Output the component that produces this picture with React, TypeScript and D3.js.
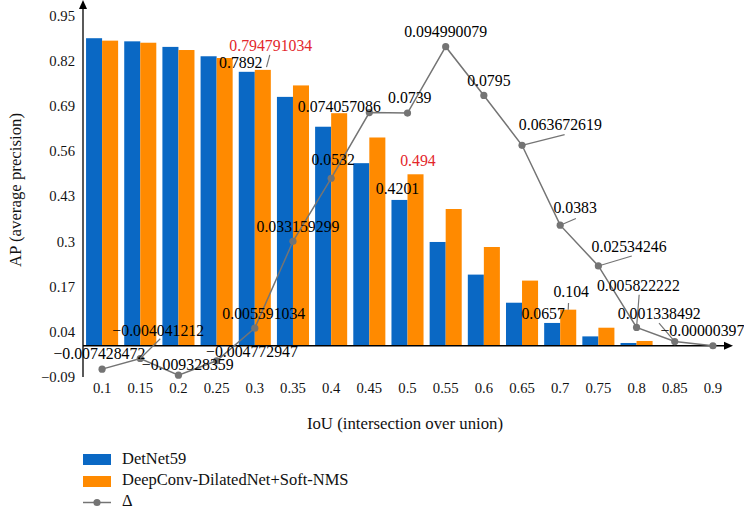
import React from 'react';
import * as d3 from 'd3';

const categories = ['0.1', '0.15', '0.2', '0.25', '0.3', '0.35', '0.4', '0.45', '0.5', '0.55', '0.6', '0.65', '0.7', '0.75', '0.8', '0.85', '0.9'];
const detnet59 = [0.886, 0.877, 0.861, 0.834, 0.7892, 0.717, 0.631, 0.526, 0.4201, 0.299, 0.205, 0.124, 0.0657, 0.027, 0.008, 0.0007, 0];
const deepConv = [0.879, 0.873, 0.852, 0.829, 0.794791034, 0.75, 0.67, 0.6, 0.494, 0.394, 0.2845, 0.1877, 0.104, 0.052, 0.0138, 0.002, 0];
const delta = [-0.007428472, -0.004041212, -0.009328359, -0.004772947, 0.005591034, 0.033159299, 0.0532, 0.074057086, 0.0739, 0.094990079, 0.0795, 0.063672619, 0.0383, 0.02534246, 0.005822222, 0.001338492, 0.00000397];
const deltaLabels = ['−0.007428472', '−0.004041212', '−0.009328359', '−0.004772947', '0.005591034', '0.033159299', '0.0532', '0.074057086', '0.0739', '0.094990079', '0.0795', '0.063672619', '0.0383', '0.02534246', '0.005822222', '0.001338492', '−0.00000397'];
const yTicks = [-0.09, 0.04, 0.17, 0.3, 0.43, 0.56, 0.69, 0.82, 0.95];
const yTickLabels = ['−0.09', '0.04', '0.17', '0.3', '0.43', '0.56', '0.69', '0.82', '0.95'];
const seriesNames = ['DetNet59', 'DeepConv-DilatedNet+Soft-NMS', 'Δ'];

// layout offsets for delta labels: [dx, dy, leaderDx, leaderDy or null]
const deltaLabelOffsets: [number, number, number | null, number | null][] = [
  [-2.7, -10, null, null],
  [18, -22.3, 20, -19.7],
  [9.3, -5, null, null],
  [35.3, -3.3, null, null],
  [9, -9, null, null],
  [5, -9.4, null, null],
  [2, -13.3, null, null],
  [-30, -0.3, null, null],
  [2.3, -10.3, null, null],
  [0, -9.7, null, null],
  [5, -9.7, null, null],
  [38.3, -15.3, 42.6, -10.6],
  [15, -11.7, 15.7, -6.7],
  [30.7, -14.3, 33.4, -10],
  [1.8, -36.7, 2.6, -32.7],
  [-15.5, -22.4, -15.7, -18.4],
  [-10.5, -9.3, null, null],
];

const BLUE = '#0a68c4';
const ORANGE = '#ff8a00';
const GRAY = '#747474';
const RED = '#e3262b';
const FONT = '"Liberation Serif", "Times New Roman", serif';
const LABEL_SIZE = 15.8;

export default function App() {
  const W = 744, H = 508;
  const x0 = 83, x1 = 732;
  const yTop = 16, yBot = 377;

  const x = d3.scaleBand<string>().domain(categories).range([x0, x1]).paddingInner(0.16).paddingOuter(0.08);
  const xs = d3.scaleBand<string>().domain(['a', 'b']).range([0, x.bandwidth()]);
  const y = d3.scaleLinear().domain([-0.09, 0.95]).range([yBot, yTop]);
  const y0 = y(0);
  // secondary scale for Δ (shares the zero line)
  const yd = d3.scaleLinear().domain([0, 0.094990079]).range([y0, 46.7]);

  const cx = (c: string) => (x(c) as number) + x.bandwidth() / 2;
  const line = d3.line<number>().x((_, i) => cx(categories[i])).y((d) => yd(d));

  const barLabel = (i: number, series: 'a' | 'b', text: string, dx: number, dy: number, color: string, leader?: [number, number, number, number]) => {
    const c = categories[i];
    const v = series === 'a' ? detnet59[i] : deepConv[i];
    const bx = (x(c) as number) + (xs(series) as number) + xs.bandwidth() / 2;
    const by = y(v);
    return (
      <g key={`bl-${i}-${series}`}>
        {leader && <line x1={bx + leader[0]} y1={by + leader[1]} x2={bx + leader[2]} y2={by + leader[3]} stroke={GRAY} strokeWidth={1.2} />}
        <text x={bx + dx} y={by + dy} textAnchor="middle" fill={color} fontSize={LABEL_SIZE}>{text}</text>
      </g>
    );
  };

  return (
    <svg width={W} height={H} style={{ position: 'absolute', left: 0, top: 0, fontFamily: FONT }}>
      <rect width={W} height={H} fill="#fff" />
      {/* bars */}
      {categories.map((c, i) => (
        <g key={c}>
          <rect x={(x(c) as number) + (xs('a') as number)} width={xs.bandwidth()} y={y(Math.max(0, detnet59[i]))} height={Math.abs(y(detnet59[i]) - y0)} fill={BLUE} />
          <rect x={(x(c) as number) + (xs('b') as number)} width={xs.bandwidth()} y={y(Math.max(0, deepConv[i]))} height={Math.abs(y(deepConv[i]) - y0)} fill={ORANGE} />
        </g>
      ))}
      {/* axes */}
      <line x1={x0} x2={x0} y1={yBot} y2={6} stroke="#000" strokeWidth={1.3} />
      <path d={`M${x0},0 L${x0 - 4},9 L${x0 + 4},9 Z`} fill="#000" />
      <line x1={x0} x2={x1 - 6} y1={y0} y2={y0} stroke="#000" strokeWidth={1.3} />
      <path d={`M${x1 + 1},${y0} L${x1 - 8},${y0 - 4} L${x1 - 8},${y0 + 4} Z`} fill="#000" />
      {yTicks.map((t, i) => (
        <text key={t} x={75} y={y(t)} dy="0.34em" textAnchor="end" fontSize={14.7} fill="#111">{yTickLabels[i]}</text>
      ))}
      {categories.map((c) => (
        <text key={c} x={cx(c)} y={393} textAnchor="middle" fontSize={14.7} fill="#111">{c}</text>
      ))}
      <text transform={`translate(21,190) rotate(-90)`} textAnchor="middle" fontSize={16.8} fill="#111">AP (average precision)</text>
      <text x={405} y={429} textAnchor="middle" fontSize={16.8} fill="#111">IoU (intersection over union)</text>
      {/* delta line */}
      <path d={line(delta) || ''} fill="none" stroke={GRAY} strokeWidth={1.5} />
      {delta.map((d, i) => (
        <circle key={i} cx={cx(categories[i])} cy={yd(d)} r={3.6} fill={GRAY} />
      ))}
      {/* delta labels */}
      {delta.map((d, i) => {
        const px = cx(categories[i]);
        const py = yd(d);
        const [dx, dy, lx, ly] = deltaLabelOffsets[i];
        return (
          <g key={`dl-${i}`}>
            {lx !== null && ly !== null && <line x1={px} y1={py} x2={px + lx} y2={py + ly} stroke={GRAY} strokeWidth={1.2} />}
            <text x={px + dx} y={py + dy} textAnchor="middle" fontSize={LABEL_SIZE} fill="#000">{deltaLabels[i]}</text>
          </g>
        );
      })}
      {/* bar labels */}
      {barLabel(4, 'a', '0.7892', -6, -4, '#000')}
      {barLabel(4, 'b', '0.794791034', 8, -19, RED, [7, -15, 3.7, -2.7])}
      {barLabel(8, 'a', '0.4201', -2, -5.7, '#000')}
      {barLabel(8, 'b', '0.494', 2.4, -8, RED)}
      {barLabel(12, 'a', '0.0657', -9, -3.7, '#000')}
      {barLabel(12, 'b', '0.104', 3, -12.7, '#000', [0.3, -6.7, 0, 0])}
      {/* legend */}
      <rect x={83} y={454} width={28} height={11} fill={BLUE} />
      <text x={122} y={463.5} fontSize={16.5} fill="#111">{seriesNames[0]}</text>
      <rect x={83} y={476} width={28} height={11} fill={ORANGE} />
      <text x={122} y={485} fontSize={16.5} fill="#111">{seriesNames[1]}</text>
      <line x1={83} x2={111} y1={502.5} y2={502.5} stroke={GRAY} strokeWidth={1.5} />
      <circle cx={97} cy={502.5} r={3.6} fill={GRAY} />
      <text x={122} y={505.5} fontSize={16.5} fill="#111">{seriesNames[2]}</text>
    </svg>
  );
}
